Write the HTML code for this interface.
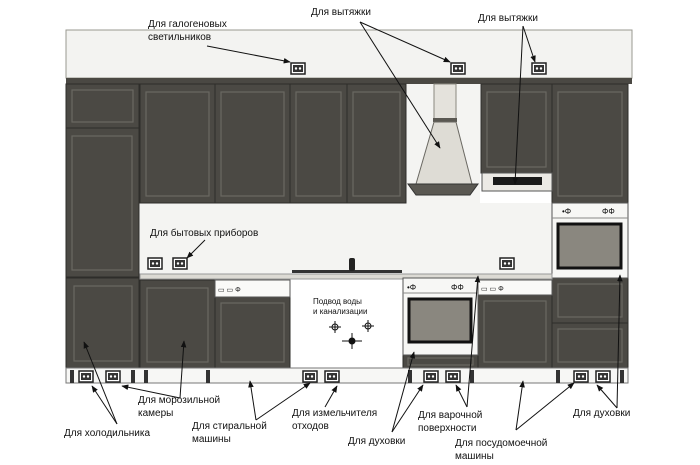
<!DOCTYPE html>
<html><head><meta charset="utf-8"><style>
html,body{margin:0;padding:0;background:#fff;width:700px;height:465px;overflow:hidden}
text{font-family:"Liberation Sans",sans-serif;font-size:10px;fill:#111}
</style></head><body>
<svg width="700" height="465" viewBox="0 0 700 465" xmlns="http://www.w3.org/2000/svg">
<defs>
<marker id="a" viewBox="0 0 10 10" refX="9" refY="5" markerWidth="7" markerHeight="7" orient="auto"><path d="M0,1 L10,5 L0,9 z" fill="#111"/></marker>
<g id="s"><rect x="0" y="0" width="14" height="11" fill="#fff" stroke="#222" stroke-width="1.5"/><rect x="2" y="2" width="10" height="7" fill="#333"/><circle cx="5" cy="5.5" r="1.2" fill="#fff"/><circle cx="9" cy="5.5" r="1.2" fill="#fff"/></g>
</defs>
<!-- top wall band -->
<rect x="66" y="30" width="566" height="48" fill="#f3f3f1" stroke="#9a9890"/>
<rect x="66" y="78" width="566" height="6" fill="#4a4843"/>
<!-- backsplash -->
<rect x="140" y="203" width="412" height="73" fill="#f4f4f2"/>
<!-- hood gap -->
<rect x="406" y="84" width="74" height="119" fill="#f4f4f2"/>
<g fill="#4b4944" stroke="#2e2d2a">
<!-- left tall column -->
<rect x="66" y="84" width="73" height="44"/><rect x="66" y="128" width="73" height="149"/><rect x="66" y="278" width="73" height="90"/>
<!-- upper cabinets -->
<rect x="140" y="84" width="75" height="119"/><rect x="215" y="84" width="75" height="119"/><rect x="290" y="84" width="57" height="119"/><rect x="347" y="84" width="59" height="119"/>
<rect x="481" y="84" width="71" height="89"/>
<rect x="552" y="84" width="76" height="119"/>
<!-- lower -->
<rect x="140" y="280" width="75" height="88"/><rect x="215" y="297" width="75" height="71"/>
<rect x="478" y="295" width="74" height="73"/>
<rect x="552" y="278" width="76" height="45"/><rect x="552" y="323" width="76" height="45"/>
<rect x="403" y="355" width="75" height="13"/>
</g>
<g fill="none" stroke="#6a6862" stroke-width="1.2">
<rect x="72" y="90" width="61" height="32"/><rect x="72" y="136" width="60" height="134"/><rect x="74" y="286" width="58" height="75"/>
<rect x="146" y="92" width="63" height="104"/><rect x="221" y="92" width="63" height="104"/><rect x="296" y="92" width="45" height="104"/><rect x="353" y="92" width="47" height="104"/>
<rect x="487" y="92" width="59" height="75"/><rect x="558" y="92" width="64" height="104"/>
<rect x="147" y="288" width="61" height="74"/><rect x="221" y="303" width="63" height="59"/><rect x="484" y="301" width="62" height="61"/>
<rect x="558" y="284" width="64" height="33"/><rect x="558" y="329" width="64" height="33"/><rect x="408" y="358" width="65" height="7"/>
</g>
<!-- hood -->
<rect x="434" y="84" width="22" height="36" fill="#e4e2dc" stroke="#8a887f"/>
<rect x="433" y="118" width="24" height="4" fill="#5a5852"/>
<path d="M434,122 L456,122 L472,184 L416,184 z" fill="#dedcd5" stroke="#6a6862"/>
<path d="M408,184 L478,184 L470,195 L416,195 z" fill="#5a5852" stroke="#333"/>
<!-- under-cabinet hood -->
<rect x="482" y="173" width="70" height="18" fill="#eceae5" stroke="#555"/>
<rect x="493" y="177" width="49" height="8" fill="#1a1a1a"/>
<!-- right oven module -->
<rect x="552" y="203" width="76" height="75" fill="#f7f7f5" stroke="#555"/>
<line x1="552" y1="218" x2="628" y2="218" stroke="#888"/>
<rect x="558" y="224" width="63" height="44" fill="#8a877f" stroke="#111" stroke-width="3"/>
<text x="562" y="214" style="font-size:8px">•Φ</text><text x="602" y="214" style="font-size:8px">ΦΦ</text>
<!-- countertop -->
<rect x="140" y="274" width="412" height="5" fill="#dcdad4" stroke="#999"/>
<rect x="292" y="270" width="110" height="3" fill="#333"/>
<rect x="349" y="258" width="6" height="13" rx="2" fill="#222"/>
<!-- washer panel -->
<rect x="215" y="280" width="75" height="17" fill="#fafaf8" stroke="#555"/>
<text x="218" y="292" style="font-size:7px">▭ ▭ Φ</text>
<!-- dishwasher panel -->
<rect x="478" y="280" width="74" height="15" fill="#fafaf8" stroke="#555"/>
<text x="481" y="291" style="font-size:7px">▭ ▭ Φ</text>
<!-- hob oven -->
<rect x="403" y="278" width="75" height="77" fill="#f7f7f5" stroke="#555"/>
<line x1="403" y1="293" x2="478" y2="293" stroke="#888"/>
<rect x="409" y="299" width="62" height="43" fill="#8a877f" stroke="#111" stroke-width="3"/>
<text x="407" y="290" style="font-size:8px">•Φ</text><text x="451" y="290" style="font-size:8px">ΦΦ</text>
<!-- plinth -->
<rect x="66" y="368" width="562" height="15" fill="#f7f7f5" stroke="#777"/>
<g fill="#333"><rect x="70" y="370" width="4" height="13"/><rect x="131" y="370" width="4" height="13"/><rect x="144" y="370" width="4" height="13"/><rect x="206" y="370" width="4" height="13"/><rect x="408" y="370" width="4" height="13"/><rect x="470" y="370" width="4" height="13"/><rect x="556" y="370" width="4" height="13"/><rect x="620" y="370" width="4" height="13"/></g>
<!-- water -->
<text x="313" y="304" style="font-size:8px">Подвод воды</text><text x="313" y="314" style="font-size:8px">и канализации</text>
<g stroke="#111" fill="none"><circle cx="335" cy="327" r="3"/><line x1="329" y1="327" x2="341" y2="327"/><line x1="335" y1="321" x2="335" y2="333"/>
<circle cx="368" cy="326" r="3"/><line x1="362" y1="326" x2="374" y2="326"/><line x1="368" y1="320" x2="368" y2="332"/>
<circle cx="352" cy="341" r="3" fill="#111"/><line x1="342" y1="341" x2="362" y2="341"/><line x1="352" y1="333" x2="352" y2="349"/></g>
<!-- sockets -->
<use href="#s" x="291" y="63"/><use href="#s" x="451" y="63"/><use href="#s" x="532" y="63"/>
<use href="#s" x="148" y="258"/><use href="#s" x="173" y="258"/><use href="#s" x="500" y="258"/>
<use href="#s" x="79" y="371"/><use href="#s" x="106" y="371"/><use href="#s" x="303" y="371"/><use href="#s" x="325" y="371"/>
<use href="#s" x="424" y="371"/><use href="#s" x="446" y="371"/><use href="#s" x="574" y="371"/><use href="#s" x="596" y="371"/>
<!-- labels -->
<text x="148" y="27">Для галогеновых</text><text x="148" y="40">светильников</text>
<text x="311" y="15">Для вытяжки</text><text x="478" y="21">Для вытяжки</text>
<text x="150" y="236">Для бытовых приборов</text>
<text x="138" y="403">Для морозильной</text><text x="138" y="416">камеры</text>
<text x="64" y="436">Для холодильника</text>
<text x="192" y="429">Для стиральной</text><text x="192" y="442">машины</text>
<text x="292" y="416">Для измельчителя</text><text x="292" y="429">отходов</text>
<text x="348" y="444">Для духовки</text>
<text x="418" y="418">Для варочной</text><text x="418" y="431">поверхности</text>
<text x="455" y="446">Для посудомоечной</text><text x="455" y="459">машины</text>
<text x="573" y="416">Для духовки</text>
<!-- arrows -->
<g stroke="#111" stroke-width="1" marker-end="url(#a)">
<line x1="207" y1="46" x2="290" y2="62"/>
<line x1="360" y1="22" x2="450" y2="62"/><line x1="360" y1="22" x2="440" y2="148"/>
<line x1="523" y1="26" x2="535" y2="62"/><line x1="523" y1="26" x2="515" y2="184"/>
<line x1="205" y1="240" x2="187" y2="258"/>
<line x1="117" y1="424" x2="84" y2="342"/><line x1="117" y1="424" x2="92" y2="386"/>
<line x1="180" y1="398" x2="184" y2="341"/><line x1="180" y1="398" x2="122" y2="386"/>
<line x1="256" y1="420" x2="250" y2="381"/><line x1="256" y1="420" x2="310" y2="383"/>
<line x1="325" y1="407" x2="337" y2="386"/>
<line x1="392" y1="432" x2="414" y2="352"/><line x1="392" y1="432" x2="423" y2="385"/>
<line x1="467" y1="407" x2="478" y2="276"/><line x1="467" y1="407" x2="456" y2="385"/>
<line x1="516" y1="430" x2="523" y2="381"/><line x1="516" y1="430" x2="574" y2="383"/>
<line x1="617" y1="408" x2="620" y2="275"/><line x1="617" y1="408" x2="597" y2="385"/>
</g>
</svg>
</body></html>
